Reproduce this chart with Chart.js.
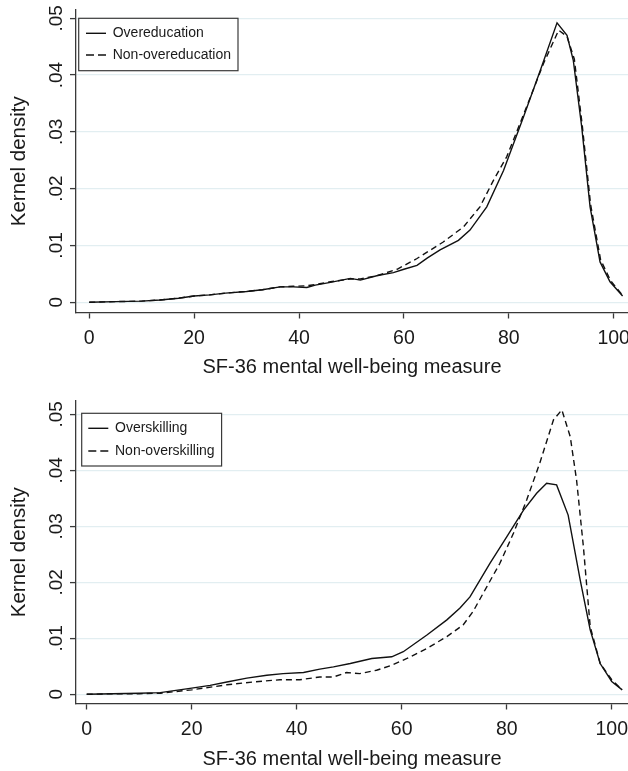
<!DOCTYPE html>
<html lang="en">
<head>
<meta charset="UTF-8">
<title>Kernel density of SF-36 mental well-being</title>
<script src="https://cdn.jsdelivr.net/npm/chart.js"></script>
<style>
  body { margin: 0; background: #fff; }
  canvas { display: block; }
</style>
</head>
<body>
<canvas id="eduChart" width="628" height="385"></canvas>
<canvas id="skillChart" width="628" height="386"></canvas>
<script>
// ---- data ----
const xTicks = [0, 20, 40, 60, 80, 100];
const yTicks = [0, 0.01, 0.02, 0.03, 0.04, 0.05];
const xTitle = 'SF-36 mental well-being measure';
const yTitle = 'Kernel density';

// top panel
const overEduX = [0, 5, 10, 13.5, 17, 20, 23, 26, 30, 33, 36.4, 38.9, 41.5, 43.1, 46, 49.8, 51.7, 55, 58, 60, 62.5, 64.5, 66.9, 70.4, 72.6, 75.8, 79, 82.8, 86, 89.2, 91.1, 92.3, 93.9, 95.5, 97.4, 99.3, 101.7];
const overEduY = [0, .0001, .0002, .0004, .0007, .0011, .0013, .0016, .0019, .0022, .0027, .0027, .0026, .003, .0035, .0042, .0039, .0047, .0052, .0058, .0065, .0078, .0092, .0109, .0127, .0168, .0232, .0326, .0408, .0492, .047, .0426, .0309, .0168, .0071, .0036, .0011];
const nonEduX = [0, 5, 10, 13.5, 17, 20, 23, 26, 30, 33, 36.4, 38.9, 41.5, 43.1, 46, 49.8, 51.7, 55, 58.7, 62.5, 67.5, 71.4, 74.5, 77.1, 79.6, 83.4, 86.6, 89.5, 91.1, 92.5, 94, 95.6, 97.5, 99.4, 101.7];
const nonEduY = [0, .0001, .0002, .0004, .0007, .0011, .0013, .0016, .0019, .0022, .0027, .0028, .0029, .0031, .0036, .0041, .0041, .0047, .0058, .0077, .0106, .0133, .0168, .0215, .0256, .0344, .042, .0479, .0468, .0428, .0312, .0172, .0075, .0038, .0012];

// bottom panel
const overSkillX = [0, 5, 10, 14, 17, 20, 23.5, 26.7, 30.5, 34.3, 37.4, 41.3, 44.4, 47, 50.2, 54.3, 58.1, 60.3, 64.8, 68.6, 71.1, 73, 76.8, 80, 83.2, 85.7, 87.6, 89.5, 91.7, 94, 95.9, 97.8, 100, 102];
const overSkillY = [0, .0001, .0002, .0003, .0007, .0011, .0016, .0022, .0029, .0034, .0037, .0039, .0045, .0049, .0055, .0064, .0067, .0076, .0106, .0133, .0154, .0174, .0234, .0281, .0329, .0359, .0377, .0374, .032, .0204, .0115, .0055, .0023, .0008];
const nonSkillX = [0, 5, 10, 14, 17, 20, 26.7, 31.7, 36.8, 40.6, 44.4, 47, 49.5, 52, 55.2, 57.8, 61, 64.8, 68.6, 71.7, 73.6, 76.2, 78.7, 81.3, 83.8, 86.3, 88.9, 90.5, 92.1, 93.3, 94.6, 95.9, 97.8, 100, 102];
const nonSkillY = [0, .0001, .0001, .0002, .0005, .0008, .0017, .0022, .0026, .0026, .0031, .0031, .0039, .0037, .0043, .0051, .0064, .0082, .0103, .0124, .0148, .0192, .0234, .0288, .0347, .0413, .049, .0508, .046, .0383, .0264, .0121, .0055, .0026, .0008];

// ---- styling ----
const FONT = "'Liberation Sans', Arial, Helvetica, sans-serif";
const INK = '#1a1a1a';
const AXIS = '#3a3a3a';
const GRID = '#e2eef1';

function pts(xs, ys) { return xs.map((x, i) => ({x, y: ys[i]})); }
function fmtY(v) { return v === 0 ? '0' : v.toFixed(2).replace(/^0/, ''); }

// stata-style rotated y labels + boxed legend inside the plot
const stataPlugin = {
  id: 'stata',
  afterDraw(chart, args, opts) {
    const ctx = chart.ctx, ys = chart.scales.y;
    ctx.save();
    ctx.fillStyle = INK;
    ctx.font = `19px ${FONT}`;
    ctx.textAlign = 'center';
    ctx.textBaseline = 'alphabetic';
    yTicks.forEach(v => {
      ctx.save();
      ctx.translate(opts.yLabelX, ys.getPixelForValue(v));
      ctx.rotate(-Math.PI / 2);
      ctx.fillText(fmtY(v), 0, 0);
      ctx.restore();
    });

    // legend
    const ds = chart.data.datasets;
    ctx.font = `14px ${FONT}`;
    const tw = Math.max(...ds.map(d => ctx.measureText(d.label).width));
    const w = opts.textX - opts.x + tw + 7;
    ctx.fillStyle = '#fff';
    ctx.fillRect(opts.x, opts.y, w, opts.h);
    ctx.strokeStyle = AXIS;
    ctx.lineWidth = 1.2;
    ctx.strokeRect(opts.x, opts.y, w, opts.h);
    ds.forEach((d, i) => {
      const ry = opts.y + opts.firstRow + i * opts.rowH;
      ctx.strokeStyle = d.borderColor;
      ctx.lineWidth = d.borderWidth;
      ctx.setLineDash(d.borderDash ? [8, 4] : []);
      ctx.beginPath();
      ctx.moveTo(opts.lineX, ry);
      ctx.lineTo(opts.lineX + 20, ry);
      ctx.stroke();
      ctx.setLineDash([]);
      ctx.fillStyle = INK;
      ctx.textAlign = 'left';
      ctx.textBaseline = 'middle';
      ctx.fillText(d.label, opts.textX, ry);
    });
    ctx.restore();
  }
};

function makeChart(id, series, xRange, yRange, xAxisH, legend) {
  return new Chart(document.getElementById(id), {
    type: 'line',
    data: {
      datasets: series.map(s => ({
        label: s.label,
        data: pts(s.x, s.y),
        borderColor: '#111',
        borderWidth: 1.4,
        borderDash: s.dashed ? [6, 4] : undefined,
        pointRadius: 0,
        tension: 0,
        fill: false
      }))
    },
    options: {
      responsive: false,
      animation: false,
      events: [],
      layout: {padding: {top: legend.top, left: 0, right: 0, bottom: 0}},
      plugins: {
        legend: {display: false},
        tooltip: {enabled: false},
        stata: legend
      },
      scales: {
        x: {
          type: 'linear',
          min: xRange[0], max: xRange[1],
          afterBuildTicks: s => { s.ticks = xTicks.map(v => ({value: v})); },
          afterFit: s => { s.height = xAxisH; s.paddingLeft = 0; s.paddingRight = 0; },
          grid: {drawOnChartArea: false, drawTicks: true, tickLength: 6, tickColor: AXIS, tickWidth: 1.3},
          border: {color: AXIS, width: 1.3},
          ticks: {color: INK, font: {family: FONT, size: 19.5}, padding: 8, maxRotation: 0, autoSkip: false},
          title: {display: true, text: xTitle, color: INK, font: {family: FONT, size: 20}, padding: {top: 0, bottom: legend.xTitlePad}}
        },
        y: {
          min: yRange[0], max: yRange[1],
          afterBuildTicks: s => { s.ticks = yTicks.map(v => ({value: v})); },
          afterFit: s => { s.width = 76; s.paddingTop = 0; s.paddingBottom = 0; },
          grid: {color: GRID, lineWidth: 1.2, drawTicks: true, tickLength: 6, tickColor: AXIS, tickWidth: 1.3},
          border: {color: AXIS, width: 1.3},
          ticks: {display: false},
          title: {display: true, text: yTitle, color: INK, font: {family: FONT, size: 20.5}, padding: {top: 7, bottom: 0}}
        }
      }
    },
    plugins: [stataPlugin]
  });
}

makeChart('eduChart', [
  {label: 'Overeducation', x: overEduX, y: overEduY},
  {label: 'Non-overeducation', x: nonEduX, y: nonEduY, dashed: true}
], [-2.52, 102.73], [-0.00181, 0.05146], 72.5,
  {top: 10, yLabelX: 62, x: 78.7, y: 18.3, h: 52.4, firstRow: 15, rowH: 21.7, lineX: 86, textX: 112.7, xTitlePad: 6});

makeChart('skillChart', [
  {label: 'Overskilling', x: overSkillX, y: overSkillY},
  {label: 'Non-overskilling', x: nonSkillX, y: nonSkillY, dashed: true}
], [-2.04, 103.1], [-0.00164, 0.05238], 67.5,
  {top: 16, yLabelX: 62, x: 81.7, y: 28.3, h: 52.7, firstRow: 15, rowH: 22.7, lineX: 88.3, textX: 115, xTitlePad: 0});
</script>
</body>
</html>
